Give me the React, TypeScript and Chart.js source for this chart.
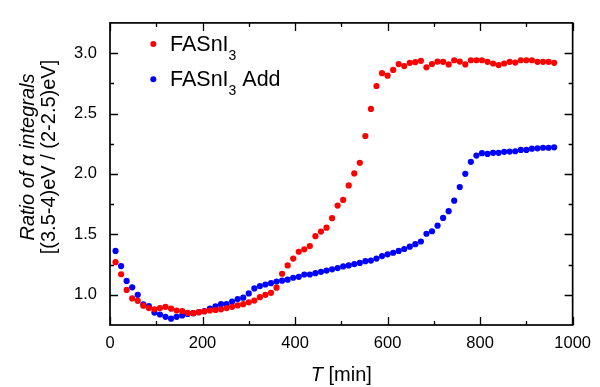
import React, { useEffect, useRef } from "react";
import { Chart, registerables } from "chart.js";

Chart.register(...registerables);

const timeMin = [12, 24, 36, 48, 60, 72, 84, 96, 108, 120, 132, 144, 156, 168, 180, 192, 204, 216, 228, 240,
  252, 264, 276, 288, 300, 312, 324, 336, 348, 360, 372, 384, 396, 408, 420, 432, 444, 456, 468, 480,
  492, 504, 516, 528, 540, 552, 564, 576, 588, 600, 612, 624, 636, 648, 660, 672, 684, 696, 708, 720,
  732, 744, 756, 768, 780, 792, 804, 816, 828, 840, 852, 864, 876, 888, 900, 912, 924, 936, 948, 960];

const fasni3 = [1.27, 1.17, 1.04, 0.97, 0.95, 0.91, 0.89, 0.88, 0.89, 0.9, 0.885, 0.87, 0.865, 0.85, 0.848, 0.856, 0.862, 0.87, 0.874, 0.88,
  0.89, 0.9, 0.912, 0.922, 0.938, 0.952, 0.98, 1.0, 1.016, 1.059, 1.174, 1.243, 1.3, 1.356, 1.376, 1.403, 1.485, 1.523, 1.555, 1.634,
  1.738, 1.785, 1.905, 2.004, 2.092, 2.314, 2.538, 2.728, 2.834, 2.813, 2.861, 2.909, 2.893, 2.92, 2.925, 2.936, 2.882, 2.909, 2.93, 2.928,
  2.906, 2.941, 2.93, 2.906, 2.941, 2.941, 2.941, 2.928, 2.914, 2.901, 2.914, 2.928, 2.922, 2.941, 2.941, 2.941, 2.928, 2.928, 2.928, 2.92];

const fasni3Add = [1.363, 1.238, 1.115, 1.062, 1.0, 0.92, 0.906, 0.853, 0.837, 0.818, 0.802, 0.818, 0.829, 0.842, 0.848, 0.856, 0.866, 0.885, 0.904, 0.922,
  0.922, 0.944, 0.965, 0.976, 1.011, 1.053, 1.072, 1.085, 1.096, 1.109, 1.117, 1.125, 1.141, 1.149, 1.168, 1.168, 1.179, 1.19, 1.2, 1.211,
  1.221, 1.235, 1.243, 1.254, 1.264, 1.278, 1.283, 1.3, 1.32, 1.335, 1.348, 1.363, 1.379, 1.398, 1.419, 1.441, 1.505, 1.526, 1.572, 1.636,
  1.692, 1.779, 1.892, 2.001, 2.1, 2.152, 2.172, 2.166, 2.175, 2.175, 2.183, 2.185, 2.188, 2.199, 2.199, 2.209, 2.212, 2.217, 2.217, 2.22];

const xMajorTicks = [0, 200, 400, 600, 800, 1000];
const xMinorTicks = [100, 300, 500, 700, 900];
const yMajorTicks = [1.0, 1.5, 2.0, 2.5, 3.0];
const yMinorTicks = [1.25, 1.75, 2.25, 2.75];

const FONT = "'Liberation Sans', Arial, sans-serif";

const framePlugin = {
  id: "frameAndText",
  afterDraw(chart: any) {
    const { ctx, chartArea, scales } = chart;
    const { left, right, top, bottom } = chartArea;
    const x = scales.x;
    const y = scales.y;
    ctx.save();
    ctx.strokeStyle = "#000";
    ctx.lineWidth = 1.7;
    ctx.strokeRect(left, top, right - left, bottom - top);

    ctx.lineWidth = 1.3;
    ctx.beginPath();
    const xt = (vals: number[], len: number) => {
      vals.forEach((v) => {
        const px = Math.round(x.getPixelForValue(v)) + 0.5;
        ctx.moveTo(px, bottom);
        ctx.lineTo(px, bottom - len);
        ctx.moveTo(px, top);
        ctx.lineTo(px, top + len);
      });
    };
    const yt = (vals: number[], len: number) => {
      vals.forEach((v) => {
        const py = Math.round(y.getPixelForValue(v)) + 0.5;
        ctx.moveTo(left, py);
        ctx.lineTo(left + len, py);
        ctx.moveTo(right, py);
        ctx.lineTo(right - len, py);
      });
    };
    xt(xMajorTicks, 8);
    xt(xMinorTicks, 4);
    yt(yMajorTicks, 8);
    yt(yMinorTicks, 4);
    ctx.stroke();

    ctx.fillStyle = "#000";
    ctx.textBaseline = "alphabetic";

    // x title
    const cx = (left + right) / 2;
    ctx.font = `italic 20px ${FONT}`;
    const tW = ctx.measureText("T").width;
    ctx.font = `20px ${FONT}`;
    const restW = ctx.measureText(" [min]").width;
    const sx = cx - (tW + restW) / 2;
    ctx.textAlign = "left";
    ctx.font = `italic 20px ${FONT}`;
    ctx.fillText("T", sx, 381);
    ctx.font = `20px ${FONT}`;
    ctx.fillText(" [min]", sx + tW, 381);

    // y title
    ctx.save();
    ctx.translate(33.5, 157);
    ctx.rotate(-Math.PI / 2);
    ctx.textAlign = "center";
    ctx.font = `italic 20px ${FONT}`;
    ctx.fillText("Ratio of α integrals", 0, 0);
    ctx.restore();
    ctx.save();
    ctx.translate(55, 157);
    ctx.rotate(-Math.PI / 2);
    ctx.textAlign = "center";
    ctx.font = `20px ${FONT}`;
    ctx.fillText("[(3.5-4)eV / (2-2.5)eV]", 0, 0);
    ctx.restore();

    // legend
    const drawEntry = (color: string, dotY: number, base: number, suffix: string) => {
      ctx.fillStyle = color;
      ctx.beginPath();
      ctx.arc(153.3, dotY, 3, 0, Math.PI * 2);
      ctx.fill();
      ctx.fillStyle = "#000";
      ctx.textAlign = "left";
      ctx.font = `21.5px ${FONT}`;
      ctx.fillText("FASnI", 170, base);
      const w = ctx.measureText("FASnI").width;
      ctx.font = `14px ${FONT}`;
      ctx.fillText("3", 170 + w, base + 9);
      const w3 = ctx.measureText("3").width;
      if (suffix) {
        ctx.font = `21.5px ${FONT}`;
        ctx.fillText(suffix, 170 + w + w3, base);
      }
    };
    drawEntry("#ff0000", 44, 50.7, "");
    drawEntry("#0000ff", 79.3, 86, " Add");

    ctx.restore();
  },
};

export default function App() {
  const ref = useRef<HTMLCanvasElement | null>(null);
  useEffect(() => {
    if (!ref.current) return;
    const chart = new Chart(ref.current, {
      type: "scatter",
      data: {
        datasets: [
          {
            label: "FASnI3",
            data: timeMin.map((t, i) => ({ x: t, y: fasni3[i] })),
            backgroundColor: "#ff0000",
            borderWidth: 0,
            pointRadius: 3.1,
            showLine: false,
          },
          {
            label: "FASnI3 Add",
            data: timeMin.map((t, i) => ({ x: t, y: fasni3Add[i] })),
            backgroundColor: "#0000ff",
            borderWidth: 0,
            pointRadius: 3.1,
            showLine: false,
          },
        ],
      },
      options: {
        animation: false,
        responsive: false,
        devicePixelRatio: 1,
        layout: { padding: { top: 13, right: 22, left: 0, bottom: 0 } },
        plugins: { legend: { display: false }, tooltip: { enabled: false } },
        scales: {
          x: {
            type: "linear",
            min: 0,
            max: 1000,
            grid: { display: false, drawTicks: false },
            border: { display: false },
            ticks: {
              color: "#000",
              font: { family: FONT, size: 16.5 },
              padding: 9,
              maxRotation: 0,
              autoSkip: false,
              callback: (v: any) => String(v),
            },
            afterFit: (s: any) => { s.height = 62; },
            afterBuildTicks: (s: any) => { s.ticks = xMajorTicks.map((v) => ({ value: v })); },
          },
          y: {
            type: "linear",
            min: 0.75,
            max: 3.25,
            grid: { display: false, drawTicks: false },
            border: { display: false },
            ticks: {
              color: "#000",
              font: { family: FONT, size: 16.5 },
              padding: 13,
              autoSkip: false,
              callback: (v: any) => Number(v).toFixed(1),
            },
            afterFit: (s: any) => { s.width = 110; },
            afterBuildTicks: (s: any) => { s.ticks = yMajorTicks.map((v) => ({ value: v })); },
          },
        },
      },
      plugins: [framePlugin],
    } as any);
    return () => chart.destroy();
  }, []);
  return (
    <div style={{ position: "fixed", left: 0, top: 0, width: 600, height: 387, background: "#fff" }}>
      <canvas ref={ref} width={600} height={387} style={{ display: "block", width: 600, height: 387 }} />
    </div>
  );
}
